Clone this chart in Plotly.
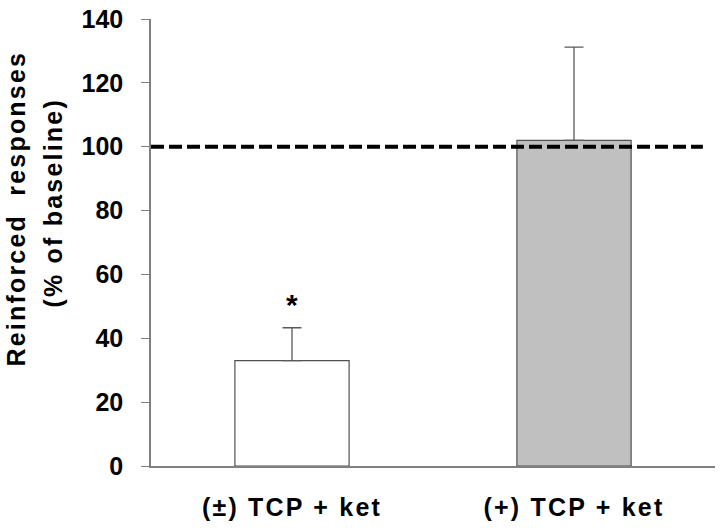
import plotly.graph_objects as go

categories = ["(±) TCP + ket", "(+) TCP + ket"]
values = [33, 102]
errors_up = [10.3, 29.2]
bar_colors = ["#ffffff", "#c0c0c0"]
baseline = 100
sig_labels = ["*", ""]
sig_y = [50.5, None]
y_ticks = [0, 20, 40, 60, 80, 100, 120, 140]
y_title_lines = ["Reinforced  responses", "(% of baseline)"]

FONT = "Liberation Sans, Arial, sans-serif"
FS = 25

fig = go.Figure()
fig.add_trace(go.Bar(
    x=categories, y=values, width=0.405,
    marker=dict(color=bar_colors, line=dict(color="#505050", width=1.2)),
    error_y=dict(type="data", symmetric=False, array=errors_up,
                 arrayminus=[0] * len(values),
                 color="#5a5a5a", thickness=1.3, width=9.5),
    showlegend=False, hoverinfo="skip",
))

# baseline dashed reference line
fig.add_shape(type="line", xref="x", yref="y", x0=-0.5, x1=1.457,
              y0=baseline, y1=baseline, layer="above",
              line=dict(color="#000000", width=4, dash="13px,5px"))

annotations = []
for c, lab, yy in zip(categories, sig_labels, sig_y):
    if lab:
        annotations.append(dict(x=c, y=yy, xref="x", yref="y", text=lab,
                                showarrow=False, xanchor="center", yanchor="middle",
                                font=dict(family=FONT, size=30, color="#000",
                                          weight="bold")))

L, T, B = 151, 19, 466
H = B - T
W = 715 - L
def px_x(p):
    return (p - L) / W
def px_y(p):
    return (B - p) / H

annotations.append(dict(x=px_x(15.5), y=px_y(209), xref="paper", yref="paper",
                        text=y_title_lines[0], textangle=-90, showarrow=False,
                        xanchor="center", yanchor="middle",
                        font=dict(family=FONT, size=FS, color="#000", weight="bold")))
annotations.append(dict(x=px_x(53), y=px_y(203), xref="paper", yref="paper",
                        text=y_title_lines[1], textangle=-90, showarrow=False,
                        xanchor="center", yanchor="middle",
                        font=dict(family=FONT, size=FS, color="#000", weight="bold")))

fig.update_layout(
    width=721, height=528,
    margin=dict(l=L, r=721 - 715, t=T, b=528 - B, autoexpand=False),
    paper_bgcolor="white", plot_bgcolor="white",
    annotations=annotations,
    xaxis=dict(type="category", range=[-0.5, 1.5], showline=True, automargin=False,
               linecolor="#808080", linewidth=1.5, ticks="", showgrid=False,
               zeroline=False, ticklabelstandoff=18,
               tickfont=dict(family=FONT, size=FS, color="#000", weight="bold")),
    yaxis=dict(range=[0, 140], tickvals=y_ticks, showline=True, automargin=False,
               linecolor="#808080", linewidth=1.5, ticks="outside", ticklen=8,
               tickcolor="#808080", tickwidth=1.2, showgrid=False, zeroline=False,
               ticklabelstandoff=13,
               tickfont=dict(family=FONT, size=FS, color="#000", weight="bold")),
    bargap=0.3,
)

post = """
document.body.style.margin = '0';
document.body.style.padding = '0';
var gd = document.getElementById('{plot_id}');
function sp(){
  gd.querySelectorAll('.xtick text, .annotation-text').forEach(function(t){
    if (t.textContent.length > 2) { t.style.letterSpacing = '2.2px'; }
  });
}
sp();
gd.on('plotly_afterplot', sp);
"""
fig.write_html("out.html", post_script=post, config={"displayModeBar": False})
